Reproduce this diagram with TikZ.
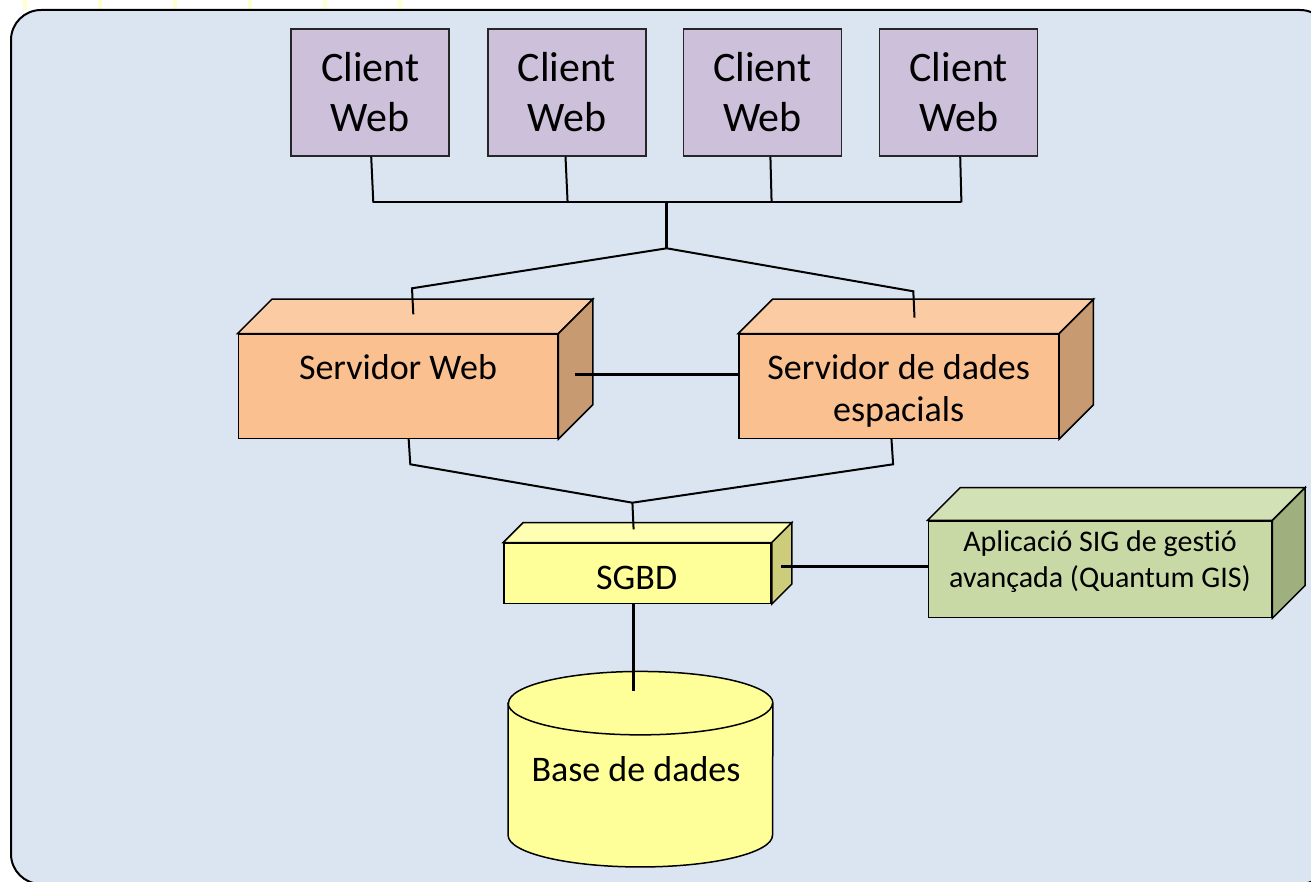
\documentclass[tikz,border=0pt]{standalone}
\usepackage{fontspec}
\setmainfont{Carlito}[Ligatures=NoCommon]
\definecolor{bgc}{HTML}{DBE5F1}
\definecolor{gridy}{HTML}{FFFFD0}
\definecolor{clientc}{HTML}{CCC0DA}
\definecolor{srvfront}{HTML}{FAC090}
\definecolor{srvtop}{HTML}{FBCCA4}
\definecolor{srvside}{HTML}{C89A72}
\definecolor{dbfront}{HTML}{FFFF99}
\definecolor{dbtop}{HTML}{FFFFB3}
\definecolor{dbside}{HTML}{CCCC7A}
\definecolor{appfront}{HTML}{C8D9A5}
\definecolor{apptop}{HTML}{D3E2B6}
\definecolor{appside}{HTML}{9FAF7E}
\tikzset{
  conn/.style={draw=black, line width=2pt},
  trunk/.style={draw=black, line width=3pt},
  face/.style={draw=black, line width=1.5pt, line join=miter},
  client/.style={draw=black!85, fill=clientc, line width=1.5pt, minimum width=158pt,
    minimum height=127pt, inner sep=0pt, align=center, font=\fontsize{42}{50}\selectfont},
  lbl/.style={inner sep=0pt, align=center, font=\fontsize{36}{42}\selectfont},
  smalllbl/.style={inner sep=0pt, align=center, font=\fontsize{30}{36}\selectfont},
}
\newcommand{\drawcuboid}[4]{%
  \path[face, fill=#3] (#1.north west) -- ++(#2,-#2) -- ([shift={(#2,-#2)}]#1.north east) -- (#1.north east) -- cycle;
  \path[face, fill=#4] (#1.north east) -- ++(#2,-#2) -- ([shift={(#2,-#2)}]#1.south east) -- (#1.south east) -- cycle;
}
\begin{document}
\begin{tikzpicture}[x=1pt,y=-1pt]
\useasboundingbox (0,0) rectangle (1311,882);
% faint page grid marks
\foreach \gx in {25,100,175,250,325,400}{\draw[gridy, line width=4pt] (\gx,0) -- (\gx,10);}
% background panel
\draw[fill=bgc, line width=2pt, rounded corners=30pt] (11,10) rectangle (1330,884);

% clients
\node[client] (c1) at (370.2,92.5) {Client\\Web};
\node[client] (c2) at (566.9,92.5) {Client\\Web};
\node[client] (c3) at (762.5,92.5) {Client\\Web};
\node[client] (c4) at (958.7,92.5) {Client\\Web};

% servers
\node[face, fill=srvfront, minimum width=319.4pt, minimum height=104pt, inner sep=0pt] (sw) at (398,386.3) {};
\drawcuboid{sw}{34.3}{srvtop}{srvside}
\node[face, fill=srvfront, minimum width=319.4pt, minimum height=104pt, inner sep=0pt] (sd) at (898.7,386.3) {};
\drawcuboid{sd}{34.3}{srvtop}{srvside}
\node[lbl, anchor=base] (swt) at (398,379) {Servidor Web};
\node[lbl] (sdt) at (898.7,391.3) {Servidor de dades\\espacials};

% SGBD
\node[face, fill=dbfront, minimum width=267pt, minimum height=60pt, inner sep=0pt] (sgbd) at (637.5,573.3) {};
\drawcuboid{sgbd}{20}{dbtop}{dbside}
\node[lbl, anchor=base] (sgbdt) at (636.7,589.3) {SGBD};

% application
\node[face, fill=appfront, minimum width=343.4pt, minimum height=96.3pt, inner sep=0pt] (app) at (1100,569.2) {};
\drawcuboid{app}{32.7}{apptop}{appside}
\node[smalllbl] (appt) at (1100,561.6) {Aplicació SIG de gestió\\avançada (Quantum GIS)};

% database cylinder
\node[inner sep=0pt, minimum width=264.4pt, minimum height=131.7pt] (db) at (640.5,769.2) {};
\path[face, fill=dbfront] (db.north west) -- (db.south west)
   arc[start angle=180, end angle=0, x radius=132.2, y radius=31.7]
   -- (db.north east)
   arc[start angle=0, end angle=-180, x radius=132.2, y radius=31.7] -- cycle;
\path[face] (db.north west) arc[start angle=180, end angle=0, x radius=132.2, y radius=31.7];
\node[lbl, anchor=base] (dbt) at (636,781) {Base de dades};

% connectors: clients to bus
\coordinate (b1) at (373.3,202.5);
\coordinate (b2) at (567.6,202.5);
\coordinate (b3) at (771.6,202.5);
\coordinate (b4) at (961.4,202.5);
\coordinate (hubC) at (666.7,202.5);
\coordinate (fork) at (666.7,248.3);
\coordinate (kL) at (412,288.3);
\coordinate (eL) at (413.3,314.3);
\coordinate (kR) at (913.3,291.3);
\coordinate (eR) at (914.5,317.7);
\draw[conn] ([xshift=1pt]c1.south) -- (b1);
\draw[conn] ([xshift=-1.4pt]c2.south) -- (b2);
\draw[conn] ([xshift=7.9pt]c3.south) -- (b3);
\draw[conn] ([xshift=1.5pt]c4.south) -- (b4);
\draw[conn] (b1) -- (b4);
\draw[trunk] (hubC) -- (fork);
\draw[conn, line join=miter] (fork) -- (kL) -- (eL);
\draw[conn, line join=miter] (fork) -- (kR) -- (eR);

% servers to SGBD
\coordinate (uL) at (408.6,438.3);
\coordinate (uL2) at (410.3,464.3);
\coordinate (uR) at (891.4,438.3);
\coordinate (uR2) at (893.1,464.3);
\coordinate (join) at (632.4,502.7);
\coordinate (sgTop) at (633.6,529.3);
\draw[conn, line join=miter] (uL) -- (uL2) -- (join) -- (uR2) -- (uR);
\draw[conn] (join) -- (sgTop);

% server to server
\coordinate (swc) at (575,374.3);
\draw[trunk] (swc) -- (swc -| sd.west);

% SGBD to application
\coordinate (sgc) at (781,566);
\draw[trunk] (sgc) -- (sgc -| app.west);

% SGBD to database
\coordinate (dbTop) at (633.3,691);
\draw[trunk] (dbTop |- sgbd.south) -- (dbTop);
\end{tikzpicture}
\end{document}
